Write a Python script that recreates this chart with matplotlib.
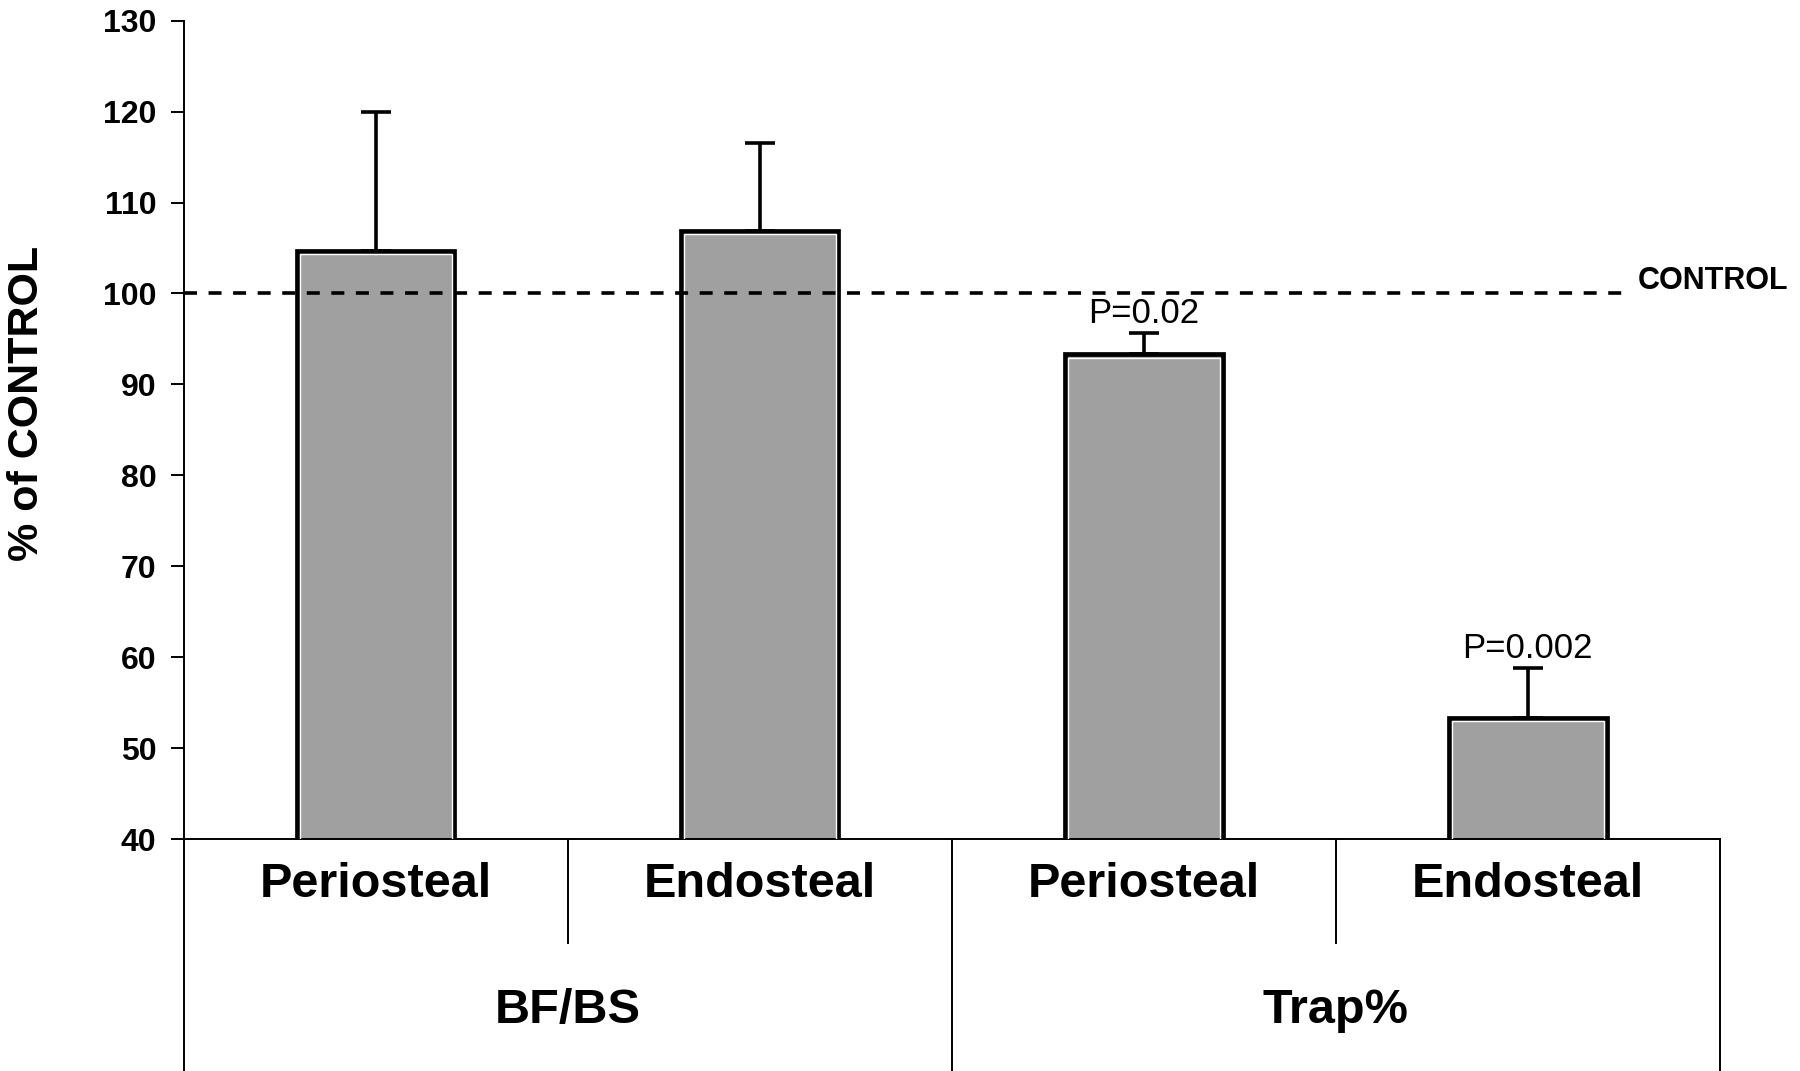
import matplotlib
matplotlib.use('Agg')
import matplotlib.pyplot as plt

# values
sites = ['Periosteal', 'Endosteal', 'Periosteal', 'Endosteal']
groups = ['BF/BS', 'Trap%']
pct_control = [104.7, 106.9, 93.3, 53.3]
err_up = [15.3, 9.7, 2.4, 5.5]
p_text = ['', '', 'P=0.02', 'P=0.002']
yticks = [40, 50, 60, 70, 80, 90, 100, 110, 120, 130]

fam = ['Liberation Sans', 'DejaVu Sans']

fig = plt.figure(figsize=(18, 10.71), dpi=100)
ax = fig.add_axes([0.102, 0.2166, 0.8535, 0.7641])

x = list(range(len(sites)))
w = 0.41
ax.errorbar(x, pct_control, yerr=[[0] * 4, err_up], fmt='none', ecolor='black',
            elinewidth=2.6, capsize=11, capthick=2.6, zorder=1)
ax.bar(x, pct_control, width=w, color='#a0a0a0', edgecolor='black',
       linewidth=3.4, zorder=2)
# thin white line just inside the black outline
ax.bar(x, [v - 0.35 for v in pct_control], width=w - 0.014, fill=False,
       edgecolor='white', linewidth=1.0, zorder=3)

# control line
ax.plot([-0.5, 3.266], [100, 100], color='black', lw=2.6,
        ls=(0, (3.6, 3.2)), zorder=4, clip_on=False)
ax.text(3.285, 101.4, 'CONTROL', family=fam, weight='bold', fontsize=22,
        ha='left', va='center')

for i in x:
    if p_text[i]:
        ax.annotate(p_text[i], xy=(i, pct_control[i] + err_up[i]), xytext=(0, 2),
                    textcoords='offset points', ha='center', va='bottom',
                    family=fam, fontsize=25)

ax.set_xlim(-0.5, 3.5)
ax.set_ylim(40, 130)
ax.set_yticks(yticks)
ax.set_yticklabels([str(t) for t in yticks], family=fam, weight='bold', fontsize=23)
ax.tick_params(axis='y', length=9.5, width=1.4, pad=10)
ax.set_xticks([])
for s in ['top', 'right']:
    ax.spines[s].set_visible(False)
ax.spines['left'].set_linewidth(1.4)
ax.spines['bottom'].set_linewidth(1.4)

ax.set_ylabel('% of CONTROL', family=fam, weight='bold', fontsize=31)
ax.yaxis.set_label_coords(-0.089, 0.532)

# category table under the axis
tr = ax.get_xaxis_transform()
bottom = -0.29
for xv in [-0.5, 1.5, 3.5]:
    ax.plot([xv, xv], [0, bottom], transform=tr, color='black', lw=1.4, clip_on=False)
for xv in [0.5, 2.5]:
    ax.plot([xv, xv], [0, -0.127], transform=tr, color='black', lw=1.4, clip_on=False)
for i in x:
    ax.text(i, -0.055, sites[i], transform=tr, ha='center', va='center',
            family=fam, weight='bold', fontsize=35)
for j, g in enumerate(groups):
    ax.text(2 * j + 0.5, -0.209, g, transform=tr, ha='center', va='center',
            family=fam, weight='bold', fontsize=35)

fig.savefig('out.png', dpi=100)
